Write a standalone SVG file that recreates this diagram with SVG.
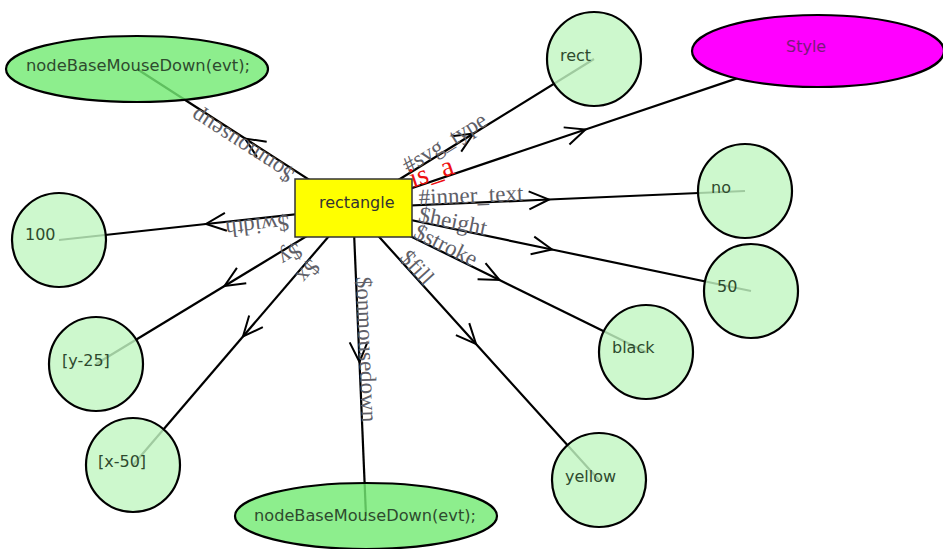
<svg xmlns="http://www.w3.org/2000/svg" width="943" height="549" viewBox="0 0 943 549">
<defs>
<marker id="arr" markerUnits="userSpaceOnUse" markerWidth="30" markerHeight="30" refX="0" refY="0" viewBox="-25 -15 30 30" orient="auto" overflow="visible">
<path d="M-20,-9 L0,0 L-20,9" fill="none" stroke="#000" stroke-width="2"/>
</marker>
</defs>
<style>
.edge{fill:none;stroke:#000;stroke-width:2.2;marker-mid:url(#arr)}
.lbl{font-family:"Liberation Serif",serif;font-size:23px;fill:#606068}
.isa{font-family:"Liberation Serif",serif;font-size:28px;fill:#ee1111}
.circ{fill:#c2f6c2;fill-opacity:0.82;stroke:#000;stroke-width:2.2}
.ell{fill:#74ea74;fill-opacity:0.82;stroke:#000;stroke-width:2.2}
.ntxt{font-family:"DejaVu Sans",Verdana,sans-serif;font-size:16px;fill:#2e4a2e}
.etxt{font-family:"DejaVu Sans",Verdana,sans-serif;font-size:16.5px;fill:#2e4a2e}
</style>
<rect width="943" height="549" fill="#fff"/>
<g id="connectors">
<polyline class="edge" points="353,208 245,138.5 137,69"/>
<polyline class="edge" points="353,208 473.5,133.5 594,59"/>
<polyline class="edge" points="353,208 585.5,129.5 818,51"/>
<polyline class="edge" points="353,208 549,199.5 745,191"/>
<polyline class="edge" points="353,208 552,249.5 751,291"/>
<polyline class="edge" points="353,208 499.5,280 646,352"/>
<polyline class="edge" points="353,208 476,344 599,480"/>
<polyline class="edge" points="353,208 359.5,362 366,516"/>
<polyline class="edge" points="353,208 243,336.5 133,465"/>
<polyline class="edge" points="353,208 224.5,286 96,364"/>
<polyline class="edge" points="353,208 206,224 59,240"/>
<text class="lbl" transform="translate(295.8,171.2) rotate(-147.24)">$onmouseup</text>
<text class="lbl" transform="translate(408.3,173.8) rotate(-31.73)">#svg_type</text>
<text class="isa" transform="translate(412.7,187.8) rotate(-18.65)">is_a</text>
<text class="lbl" transform="translate(418.9,205.1) rotate(-2.48)">#inner_text</text>
<text class="lbl" transform="translate(417.6,221.5) rotate(11.78)">$height</text>
<text class="lbl" transform="translate(412.2,237.1) rotate(26.17)">$stroke</text>
<text class="lbl" transform="translate(398.6,258.4) rotate(47.87)">$fill</text>
<text class="lbl" transform="translate(355.9,276.9) rotate(87.58)">$onmousedown</text>
<text class="lbl" transform="translate(310.1,258.1) rotate(130.56)">$x</text>
<text class="lbl" transform="translate(296.6,242.3) rotate(148.74)">$y</text>
<text class="lbl" transform="translate(288.4,215.0) rotate(173.79)">$width</text>
</g>
<g id="node-rectangle">
<rect x="295" y="179" width="117" height="58" fill="#ffff00" stroke="#333" stroke-width="1.5"/>
<text x="319" y="208" font-family="DejaVu Sans,Verdana,sans-serif" font-size="16" fill="#333">rectangle</text>
</g>
<g id="node-onmouseup">
<ellipse class="ell" cx="137" cy="69" rx="131" ry="33"/>
<text class="etxt" x="26" y="71" textLength="224" lengthAdjust="spacingAndGlyphs">nodeBaseMouseDown(evt);</text>
</g>
<g id="node-onmousedown">
<ellipse class="ell" cx="366" cy="516" rx="131" ry="33"/>
<text class="etxt" x="254" y="521" textLength="222" lengthAdjust="spacingAndGlyphs">nodeBaseMouseDown(evt);</text>
</g>
<g id="node-style">
<ellipse cx="818" cy="51" rx="126" ry="36" fill="#ff00ff" stroke="#000" stroke-width="2.2"/>
<text x="786" y="52" font-family="DejaVu Sans,Verdana,sans-serif" font-size="16" fill="#7a1a7a">Style</text>
</g>
<g id="node-rect">
<circle class="circ" cx="594" cy="59" r="47"/>
<text class="ntxt" x="560" y="61">rect</text>
</g>
<g id="node-no">
<circle class="circ" cx="745" cy="191" r="47"/>
<text class="ntxt" x="711" y="193">no</text>
</g>
<g id="node-50">
<circle class="circ" cx="751" cy="291" r="47"/>
<text class="ntxt" x="717" y="292">50</text>
</g>
<g id="node-black">
<circle class="circ" cx="646" cy="352" r="47"/>
<text class="ntxt" x="612" y="353">black</text>
</g>
<g id="node-yellow">
<circle class="circ" cx="599" cy="480" r="47"/>
<text class="ntxt" x="565" y="482">yellow</text>
</g>
<g id="node-x50">
<circle class="circ" cx="133" cy="465" r="47"/>
<text class="ntxt" x="98" y="467">[x-50]</text>
</g>
<g id="node-y25">
<circle class="circ" cx="96" cy="364" r="47"/>
<text class="ntxt" x="62" y="366">[y-25]</text>
</g>
<g id="node-100">
<circle class="circ" cx="59" cy="240" r="47"/>
<text class="ntxt" x="25" y="240">100</text>
</g>
</svg>
